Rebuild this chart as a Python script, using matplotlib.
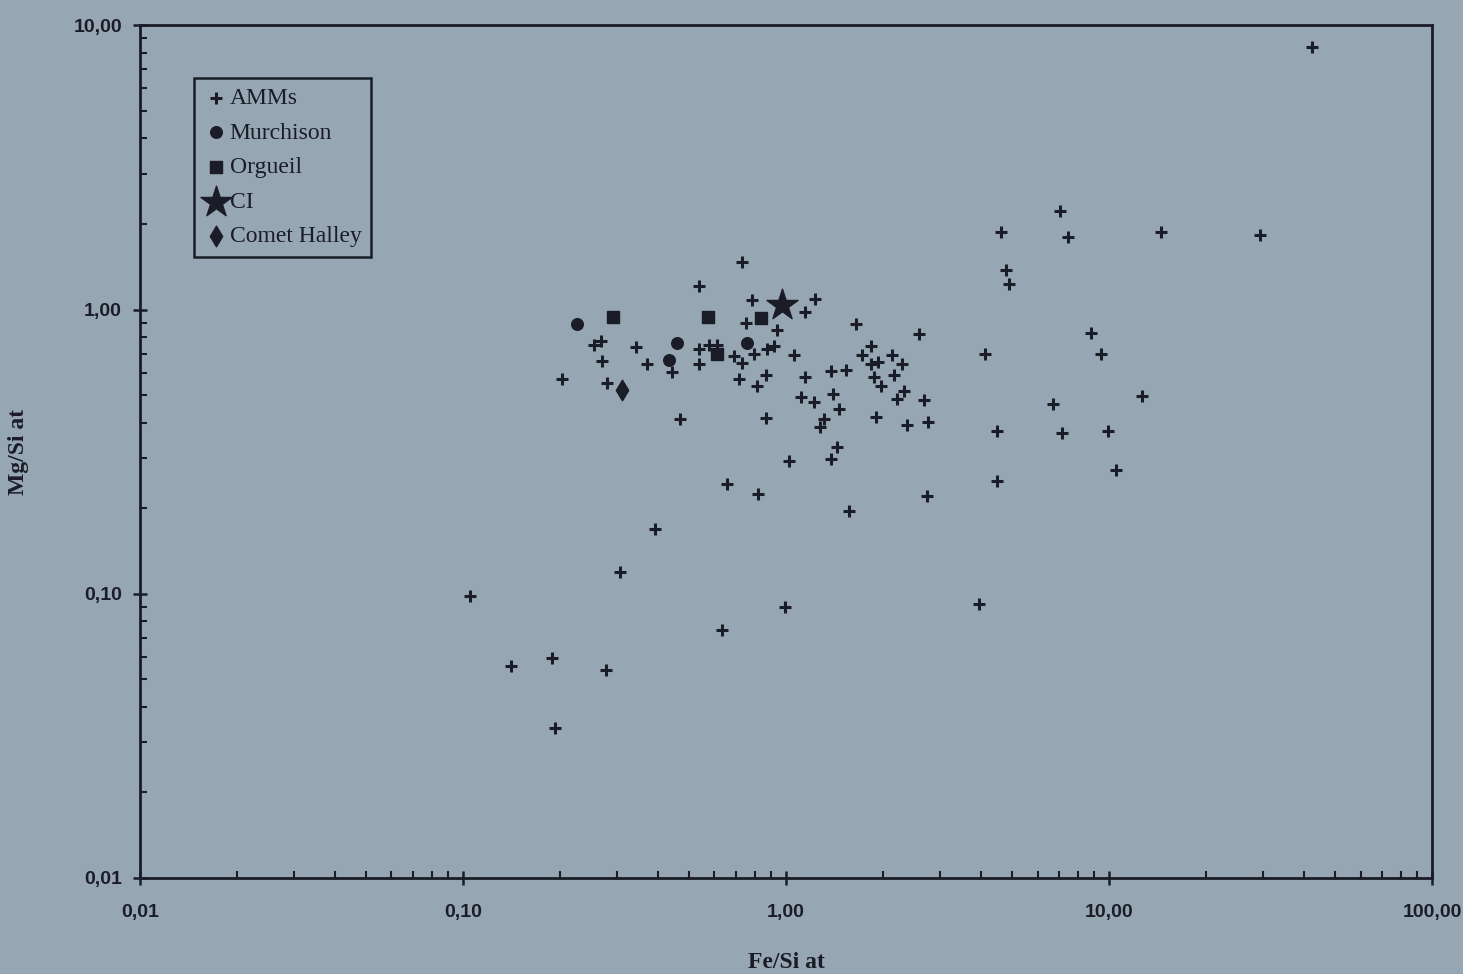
import numpy as np
import matplotlib
matplotlib.use("Agg")
import matplotlib.pyplot as plt
from matplotlib.ticker import LogLocator, NullFormatter

# Fe/Si (x) and Mg/Si (y), atomic ratios
amm_fe = [42.5, 7.03, 4.61, 7.44, 14.5, 29.3, 4.78, 4.91, 8.76, 9.41, 4.14, 2.58,
          6.68, 12.6, 4.51, 7.12, 9.89, 10.5, 4.51, 2.72, 3.94,
          0.731, 0.537, 0.785, 1.23, 1.14, 0.751, 0.938, 1.64, 0.267, 0.254,
          0.343, 0.537, 0.577, 0.611, 0.873, 0.918, 1.06, 0.269, 0.371, 0.537,
          0.690, 0.731, 0.796, 1.14, 1.38, 1.53, 1.83, 1.72, 2.12, 1.83, 1.92,
          2.29, 2.16, 1.87, 1.97, 2.32, 2.21, 2.68, 1.90, 2.37, 2.74,
          0.202, 0.279, 0.443, 0.715, 0.867, 0.813, 1.11, 1.22, 1.40, 1.46,
          1.31, 1.27, 0.469, 0.867, 1.02, 1.44, 1.38, 0.656, 0.819, 1.57,
          0.392, 0.306, 0.105, 0.993, 0.634, 0.141, 0.188, 0.277, 0.192]
amm_mg = [8.37, 2.22, 1.88, 1.80, 1.88, 1.83, 1.38, 1.23, 0.824, 0.695, 0.695, 0.817,
          0.464, 0.495, 0.373, 0.367, 0.373, 0.272, 0.249, 0.221, 0.0922,
          1.47, 1.21, 1.08, 1.09, 0.984, 0.900, 0.844, 0.893, 0.778, 0.748,
          0.736, 0.724, 0.748, 0.748, 0.724, 0.742, 0.690, 0.657, 0.641, 0.641,
          0.684, 0.647, 0.695, 0.577, 0.606, 0.611, 0.742, 0.690, 0.690, 0.641, 0.652,
          0.641, 0.587, 0.577, 0.537, 0.516, 0.483, 0.480, 0.418, 0.392, 0.401,
          0.568, 0.550, 0.601, 0.568, 0.587, 0.537, 0.491, 0.472, 0.503, 0.446,
          0.411, 0.385, 0.411, 0.415, 0.293, 0.328, 0.298, 0.243, 0.224, 0.195,
          0.169, 0.119, 0.0984, 0.090, 0.0748, 0.0559, 0.0592, 0.0541, 0.0336]

murchison_fe = [0.226, 0.459, 0.434, 0.757]
murchison_mg = [0.886, 0.760, 0.662, 0.760]

orgueil_fe = [0.291, 0.573, 0.837, 0.611]
orgueil_mg = [0.945, 0.945, 0.937, 0.695]

ci_fe = [0.972]
ci_mg = [1.04]

halley_fe = [0.310]
halley_mg = [0.520]

x_ticks = [0.01, 0.1, 1, 10, 100]
x_labels = ["0,01", "0,10", "1,00", "10,00", "100,00"]
y_ticks = [0.01, 0.1, 1, 10]
y_labels = ["0,01", "0,10", "1,00", "10,00"]

bg = "#97a6b3"
ink = "#1a1d27"

fig = plt.figure(figsize=(14.63, 9.74), dpi=100, facecolor=bg)
ax = fig.add_axes([0.0957, 0.0986, 0.8833, 0.8754], facecolor=bg)

ax.scatter(amm_fe, amm_mg, marker="+", s=85, linewidths=2.2, color=ink, label="AMMs", zorder=3)
ax.scatter(murchison_fe, murchison_mg, marker="o", s=70, color=ink, label="Murchison", zorder=3)
ax.scatter(orgueil_fe, orgueil_mg, marker="s", s=70, color=ink, label="Orgueil", zorder=3)
ax.scatter(ci_fe, ci_mg, marker="*", s=550, color=ink, label="CI", zorder=4)
ax.scatter(halley_fe, halley_mg, marker="d", s=110, color=ink, label="Comet Halley", zorder=3)

ax.set_xscale("log")
ax.set_yscale("log")
ax.set_xlim(0.01, 100)
ax.set_ylim(0.01, 10)

ax.set_xticks(x_ticks)
ax.set_xticklabels(x_labels)
ax.set_yticks(y_ticks)
ax.set_yticklabels(y_labels)
ax.xaxis.set_minor_locator(LogLocator(base=10, subs=np.arange(2, 10)))
ax.yaxis.set_minor_locator(LogLocator(base=10, subs=np.arange(2, 10)))
ax.xaxis.set_minor_formatter(NullFormatter())
ax.yaxis.set_minor_formatter(NullFormatter())

for lab in ax.get_xticklabels() + ax.get_yticklabels():
    lab.set_fontfamily("Liberation Sans")
    lab.set_fontweight("bold")
    lab.set_fontsize(14)
    lab.set_color(ink)

ax.tick_params(which="major", direction="inout", length=10, width=1.8, color=ink, pad=8)
ax.tick_params(which="minor", direction="in", length=5, width=1.5, color=ink)
ax.tick_params(axis="x", which="major", pad=14)

for side in ax.spines.values():
    side.set_linewidth(2)
    side.set_color(ink)

ax.set_xlabel("Fe/Si at", family="Liberation Serif", weight="bold", size=17, color=ink, labelpad=22)
ax.set_ylabel("Mg/Si at", family="Liberation Serif", weight="bold", size=17, color=ink)
ax.yaxis.set_label_coords(-0.086, 0.5)

leg = ax.legend(loc="upper left", bbox_to_anchor=(0.042, 0.938), frameon=True, fancybox=False,
                prop=dict(family="Liberation Serif", size=17), handletextpad=0.1,
                handlelength=1.0, borderpad=0.4, labelspacing=0.55, borderaxespad=0)
leg.get_frame().set_facecolor(bg)
leg.get_frame().set_edgecolor(ink)
leg.get_frame().set_linewidth(1.8)
leg.get_frame().set_alpha(1)
for t in leg.get_texts():
    t.set_color(ink)

fig.savefig("out.png", dpi=100, facecolor=bg)
